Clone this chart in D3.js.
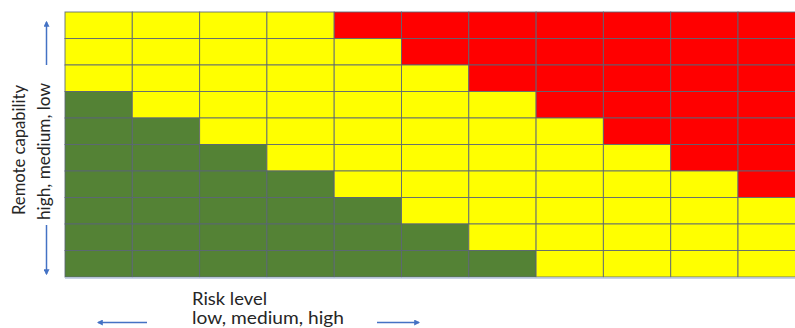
<!DOCTYPE html>
<html>
<head>
<meta charset="utf-8">
<script src="https://cdn.jsdelivr.net/npm/d3@7"></script>
<style>
  html, body { margin: 0; padding: 0; background: #fff; overflow: hidden; }
  svg { display: block; }
  text { font-family: Lato, "Open Sans", sans-serif; fill: #262626; }
</style>
</head>
<body>
<svg id="chart" width="795" height="328"></svg>
<script>
// Categories
const riskColumns = ["r1","r2","r3","r4","r5","r6","r7","r8","r9","r10","r11"];
const capabilityRows = ["c10","c9","c8","c7","c6","c5","c4","c3","c2","c1"]; // top = high
// Zone per cell, one string per row (G = green/low, Y = yellow/medium, R = red/high)
const zoneRows = [
  "YYYYRRRRRRR",
  "YYYYYRRRRRR",
  "YYYYYYRRRRR",
  "GYYYYYYRRRR",
  "GGYYYYYYRRR",
  "GGGYYYYYYRR",
  "GGGGYYYYYYR",
  "GGGGGYYYYYY",
  "GGGGGGYYYYY",
  "GGGGGGGYYYY"
];
const zoneCodes = ["G", "Y", "R"];
const zoneColors = ["#548235", "#ffff00", "#ff0000"];
const xTitle = ["Risk level", "low, medium, high"];
const yTitle = ["Remote capability", "high, medium, low"];

(function () {
const svg = d3.select("#chart");

const gLeft = 65, gTop = 12, cellW = 67.3, gBottom = 277;
const x = d3.scaleBand().domain(riskColumns).range([gLeft, gLeft + cellW * riskColumns.length]).padding(0);
const y = d3.scaleBand().domain(capabilityRows).range([gTop, gBottom]).padding(0);
const color = d3.scaleOrdinal().domain(zoneCodes).range(zoneColors);

const cells = [];
zoneRows.forEach((row, ri) => {
  row.split("").forEach((code, ci) => {
    cells.push({ row: capabilityRows[ri], col: riskColumns[ci], code });
  });
});

svg.append("g").selectAll("rect").data(cells).join("rect")
  .attr("x", d => x(d.col))
  .attr("y", d => y(d.row))
  .attr("width", x.bandwidth())
  .attr("height", y.bandwidth())
  .attr("fill", d => color(d.code))
  .attr("stroke", "#5b6575")
  .attr("stroke-opacity", 0.85)
  .attr("stroke-width", 1);

// bottom border
svg.append("line")
  .attr("x1", gLeft).attr("x2", 795)
  .attr("y1", gBottom + 1).attr("y2", gBottom + 1)
  .attr("stroke", "#b4c3dc").attr("stroke-width", 1.5);

// Arrow marker
const defs = svg.append("defs");
defs.append("marker")
  .attr("id", "ah")
  .attr("viewBox", "0 0 10 10")
  .attr("refX", 8).attr("refY", 5)
  .attr("markerWidth", 4).attr("markerHeight", 4)
  .attr("orient", "auto")
  .append("path").attr("d", "M0,0 L10,5 L0,10 z").attr("fill", "#4472c4");

const arrowColor = "#4472c4";
function arrow(x1, y1, x2, y2) {
  svg.append("line")
    .attr("x1", x1).attr("y1", y1).attr("x2", x2).attr("y2", y2)
    .attr("stroke", arrowColor).attr("stroke-width", 1.5)
    .attr("marker-end", "url(#ah)");
}
// vertical arrows
arrow(46.5, 65, 46.5, 22);
arrow(46.5, 225, 46.5, 274);
// horizontal arrows
arrow(147, 322.5, 98, 322.5);
arrow(377, 322.5, 419, 322.5);

// X title
svg.append("text").attr("x", 192).attr("y", 305)
  .attr("font-size", 16.5).attr("textLength", 75).attr("lengthAdjust", "spacingAndGlyphs")
  .text(xTitle[0]);
svg.append("text").attr("x", 192).attr("y", 324)
  .attr("font-size", 16.5).attr("textLength", 152).attr("lengthAdjust", "spacingAndGlyphs")
  .text(xTitle[1]);

// Y title (rotated)
svg.append("text").attr("transform", "translate(25,215) rotate(-90)")
  .attr("font-size", 16.5).attr("textLength", 130).attr("lengthAdjust", "spacingAndGlyphs")
  .text(yTitle[0]);
svg.append("text").attr("transform", "translate(50,220) rotate(-90)")
  .attr("font-size", 16.5).attr("textLength", 137).attr("lengthAdjust", "spacingAndGlyphs")
  .text(yTitle[1]);
})();
</script>
</body>
</html>
